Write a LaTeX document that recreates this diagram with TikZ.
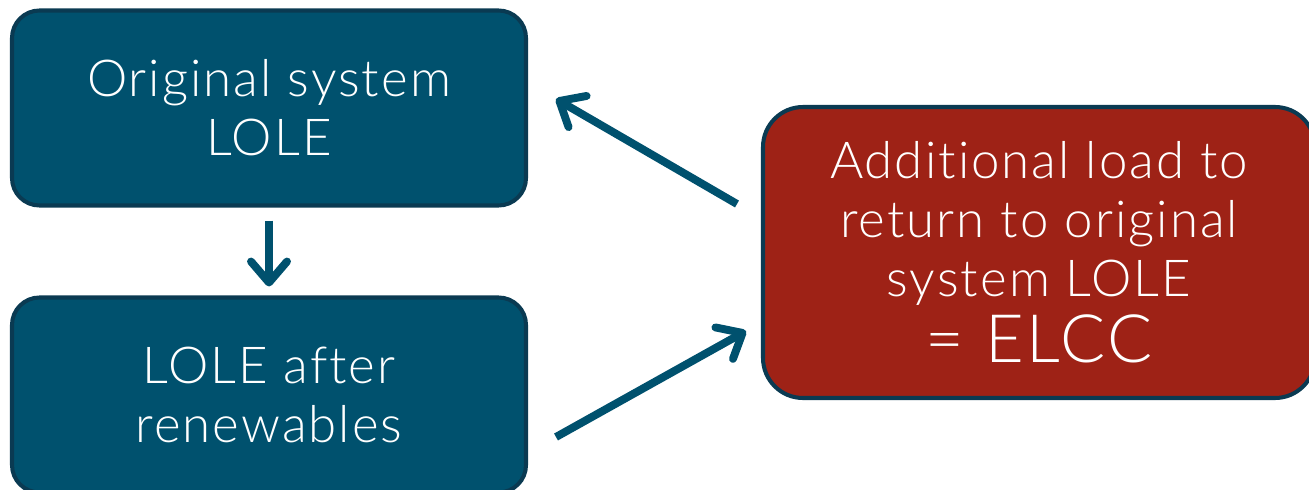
\documentclass[tikz,border=0pt]{standalone}
\usepackage{fontspec}
\setmainfont{Lato}[UprightFont={* Light}, Ligatures=NoCommon, LetterSpace=4]
\usetikzlibrary{arrows.meta}
\definecolor{blaugruen}{HTML}{00516E}
\definecolor{rand}{HTML}{0A3A52}
\definecolor{rotbraun}{HTML}{9E2216}
\tikzset{
  kasten/.style={draw=rand, line width=2.3pt, fill=blaugruen, rounded corners=0.55cm,
    text=white, align=center, font=\fontsize{29}{33.5}\selectfont,
    minimum width=10.28cm, minimum height=3.9cm},
  pfeil/.style={draw=blaugruen, line width=4.5pt,
    -{Straight Barb[length=0.42cm, width=0.72cm, round]}}
}
\begin{document}
\begin{tikzpicture}
  \useasboundingbox (0,0) rectangle (26.18,9.78);
  % Kaesten
  \node[kasten] (orig) at (5.38,7.62) {Original system\\LOLE};
  \node[kasten] (erneu) at (5.38,1.88) {LOLE after\\renewables};
  \node[kasten, fill=rotbraun, minimum width=11.04cm, minimum height=5.82cm,
    rounded corners=0.8cm] (elcc) at (20.78,4.73)
    {Additional load to\\return to original\\system LOLE\\[4pt]
     {\fontsize{38}{40}\selectfont = ELCC}};
  % Pfeile
  \coordinate (zurueckA) at (14.74,5.70);
  \coordinate (zurueckB) at (11.12,7.80);
  \coordinate (hinA) at (11.12,1.04);
  \coordinate (hinB) at (14.92,3.16);
  \draw[pfeil, shorten <=0.26cm, shorten >=0.18cm] (orig.south) -- (erneu.north);
  \draw[pfeil] (zurueckA) -- (zurueckB);
  \draw[pfeil] (hinA) -- (hinB);
\end{tikzpicture}
\end{document}
